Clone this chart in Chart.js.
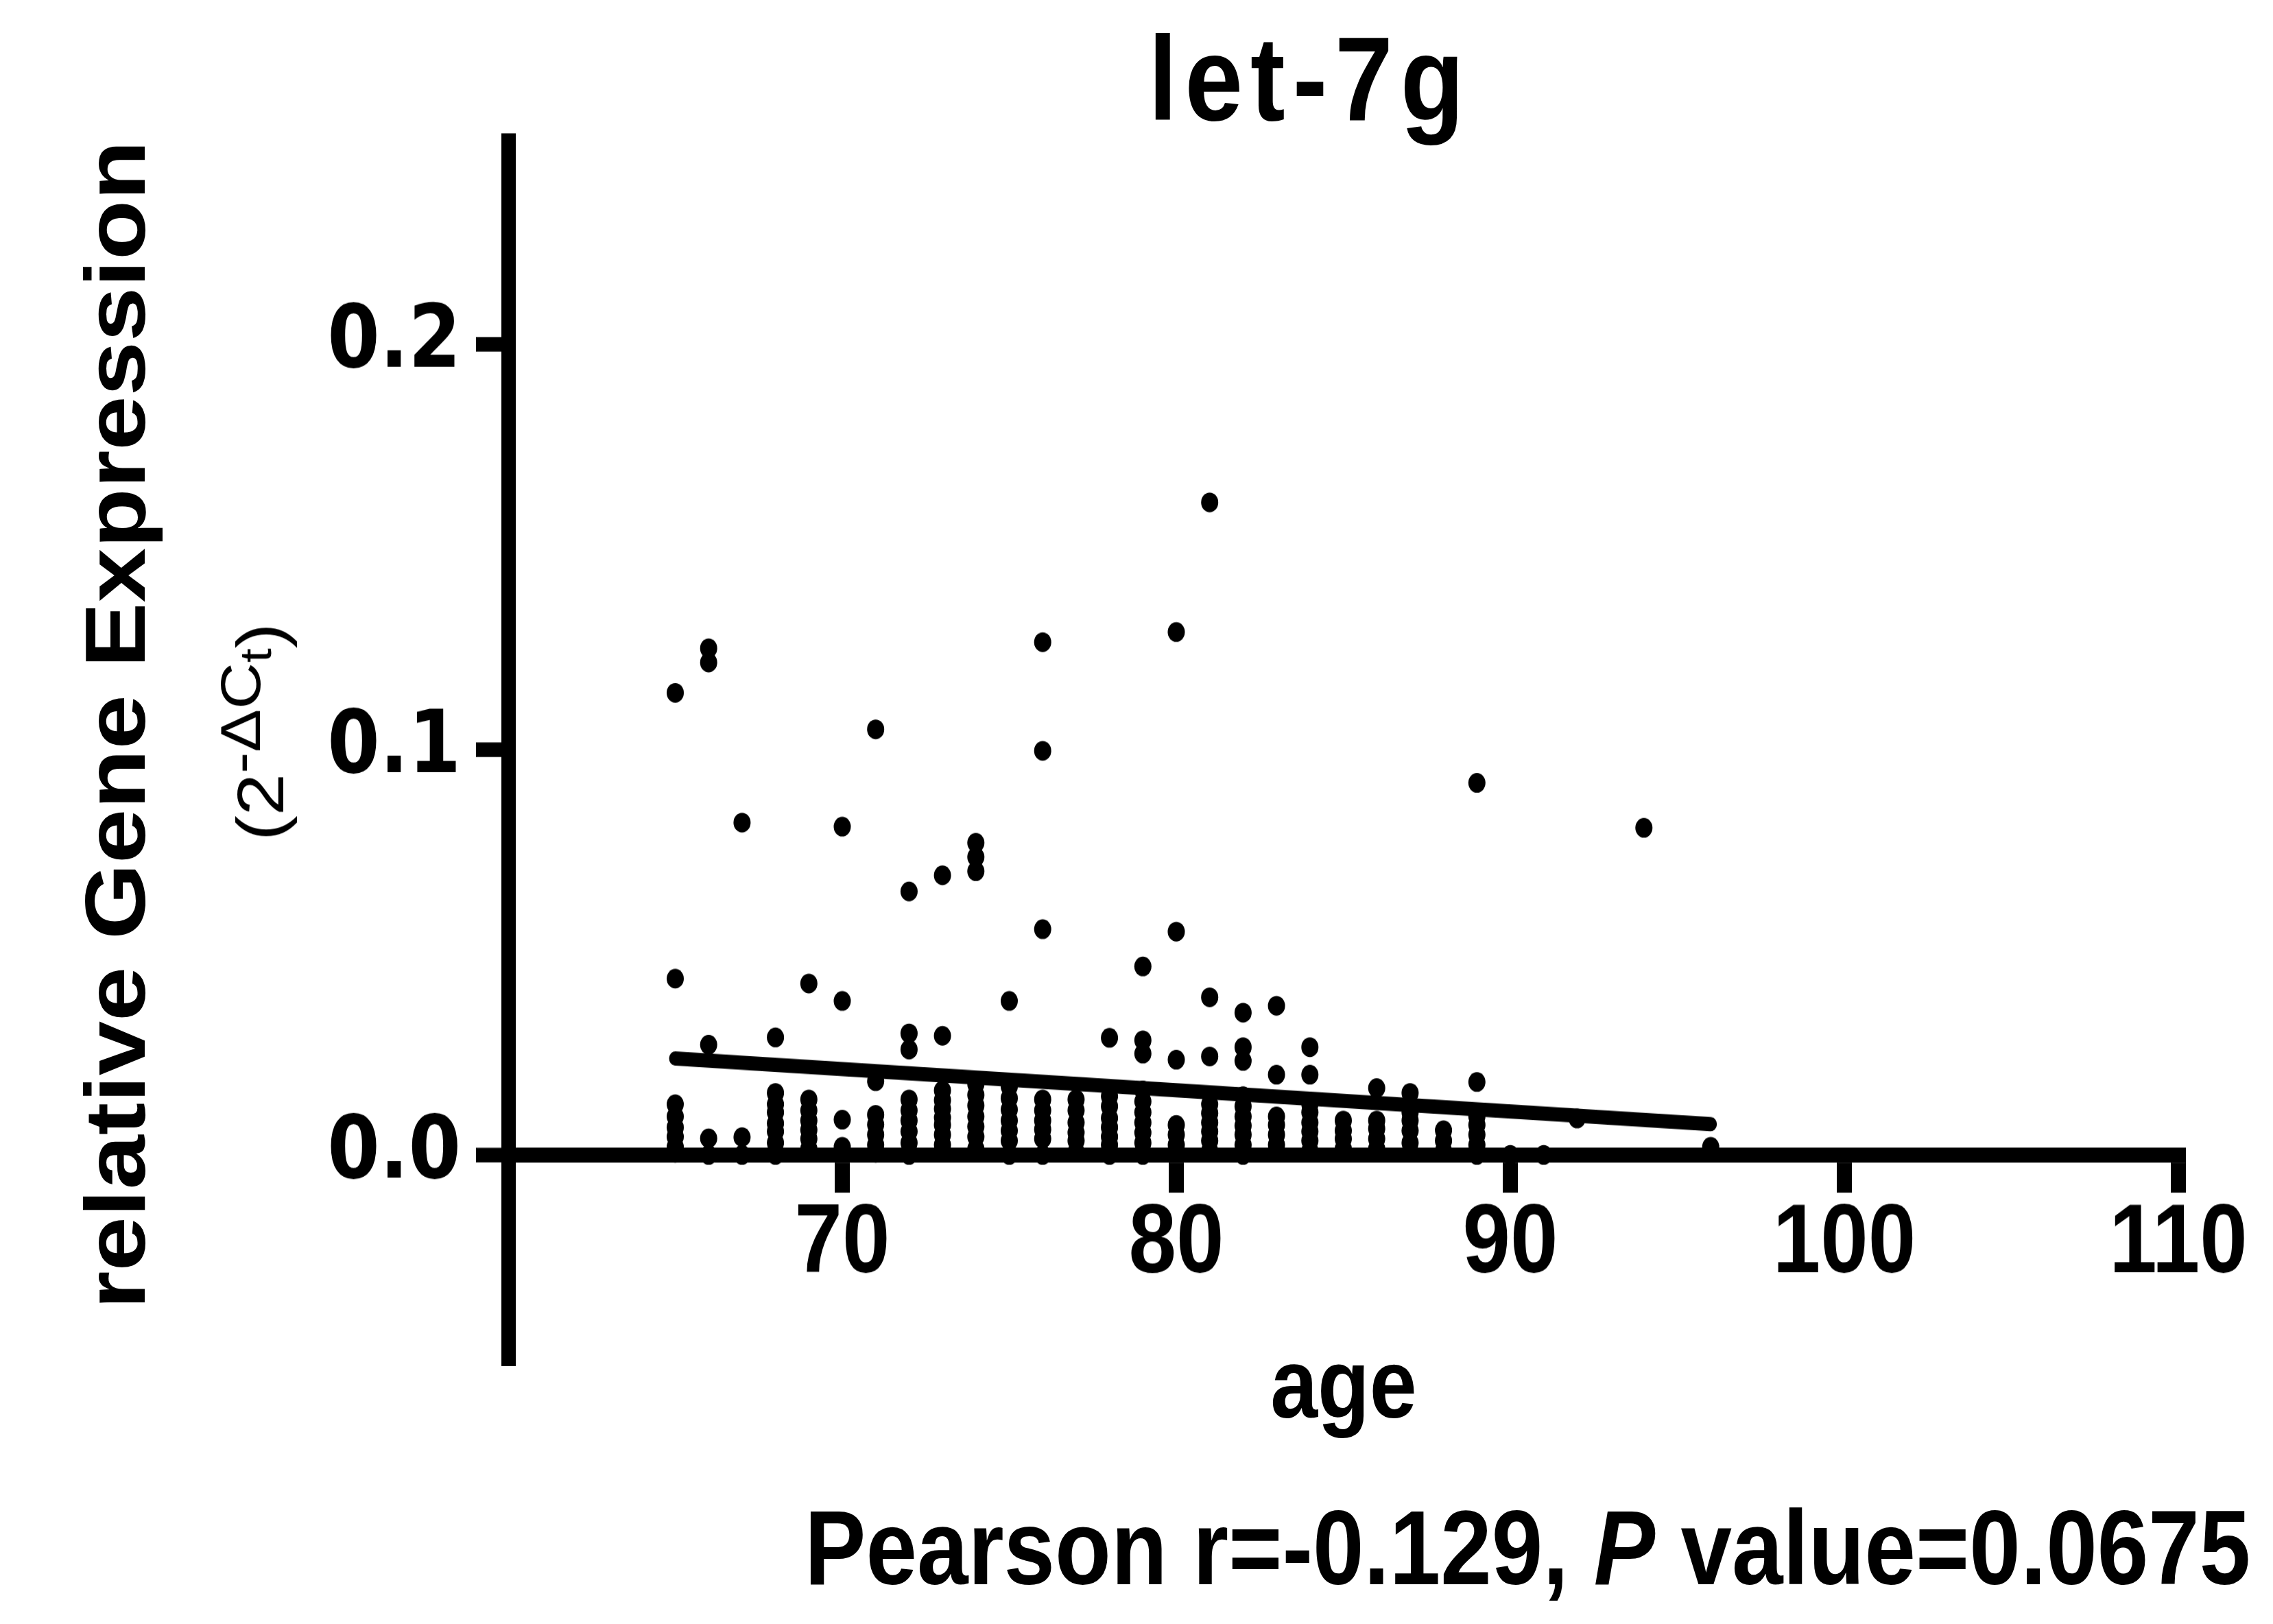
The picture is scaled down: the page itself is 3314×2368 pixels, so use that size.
<!DOCTYPE html>
<html>
<head>
<meta charset="utf-8">
<script src="https://cdn.jsdelivr.net/npm/chart.js@4.4.1/dist/chart.umd.min.js"></script>
<style>
  html, body { margin: 0; padding: 0; background: #fff; overflow: hidden; }
  /* the source figure is stretched vertically, so the whole stage is too */
  #stage { position: absolute; left: 0; top: 0; width: 3314px; height: 2059px;
           transform: scaleY(1.15007); transform-origin: 0 0; }
  #chart { position: absolute; left: 0; top: 0; }
  .txt { position: absolute; font-family: 'Liberation Sans', Arial, sans-serif; color: #000;
         white-space: nowrap; line-height: 1; }
  .rot { transform-origin: 0 0; transform: rotate(-90deg); text-align: center; }
  .up { position: relative; top: -0.42em; font-size: 0.85em; line-height: 0; }
  .dn { position: relative; top: 0.25em; font-size: 0.8em; line-height: 0; }
</style>
</head>
<body>
<div id="stage">
  <canvas id="chart" width="3314" height="2059" style="width:3314px;height:2059px"></canvas>
  <div class="txt" id="title" style="left:910px;top:23px;width:2000px;text-align:center;font-size:152px;font-weight:bold;letter-spacing:11px;">let-7g</div>
  <div class="txt" id="xtitle" style="left:1459px;top:1692px;width:1000px;text-align:center;font-size:124px;font-weight:bold;">age</div>
  <div class="txt rot" id="ytitle1" style="left:106px;top:1819px;width:1800px;font-size:124px;font-weight:bold;">relative Gene Expression</div>
  <div class="txt rot" id="ytitle2" style="left:332px;top:1828px;width:1800px;font-size:96px;">(2<span class="up">-&Delta;C<span class="dn">t</span></span>)</div>
  <div class="txt" id="stats" style="left:1173px;top:1896px;font-size:134px;font-weight:bold;">Pearson r=-0.129, <i>P</i> value=0.0675</div>
</div>
<script>
// let-7g expression vs age, one entry per sample
const ages = [
  65, 65, 65, 65, 65, 65, 65, 65,
  66, 66, 66, 66, 66,
  67, 67, 67,
  68, 68, 68, 68, 68, 68, 68, 68,
  69, 69, 69, 69, 69, 69, 69,
  70, 70, 70, 70,
  71, 71, 71, 71, 71, 71, 71,
  72, 72, 72, 72, 72, 72, 72, 72, 72,
  73, 73, 73, 73, 73, 73, 73, 73, 73,
  74, 74, 74, 74, 74, 74, 74, 74, 74, 74,
  75, 75, 75, 75, 75, 75, 75, 75,
  76, 76, 76, 76, 76, 76, 76, 76, 76,
  77, 77, 77, 77, 77, 77,
  78, 78, 78, 78, 78, 78, 78, 78,
  79, 79, 79, 79, 79, 79, 79, 79, 79, 79,
  80, 80, 80, 80, 80, 80,
  81, 81, 81, 81, 81, 81, 81, 81, 81,
  82, 82, 82, 82, 82, 82, 82, 82, 82, 82,
  83, 83, 83, 83, 83, 83,
  84, 84, 84, 84, 84, 84, 84, 84,
  85, 85, 85, 85,
  86, 86, 86, 86, 86,
  87, 87, 87, 87, 87,
  88, 88, 88,
  89, 89, 89, 89, 89, 89, 89,
  90, 91, 92, 94, 96
];
const expr = [
  0.114, 0.0435, 0.0125, 0.0095, 0.0068, 0.0045, 0.002, 0.0005,
  0.125, 0.1215, 0.0272, 0.0041, 0.0,
  0.082, 0.0044, 0.0,
  0.029, 0.0153, 0.0125, 0.0105, 0.0078, 0.0058, 0.003, 0.0,
  0.0423, 0.0137, 0.011, 0.0085, 0.0062, 0.004, 0.0015,
  0.081, 0.038, 0.0087, 0.002,
  0.105, 0.0182, 0.0099, 0.0075, 0.005, 0.0025, 0.0005,
  0.065, 0.030, 0.026, 0.0137, 0.011, 0.0085, 0.0058, 0.003, 0.0,
  0.069, 0.0294, 0.0159, 0.0135, 0.0114, 0.0092, 0.0074, 0.005, 0.0025,
  0.077, 0.0735, 0.070, 0.0175, 0.0148, 0.0122, 0.0095, 0.007, 0.0045, 0.0015,
  0.038, 0.0169, 0.014, 0.0112, 0.0085, 0.006, 0.0035, 0.0,
  0.1265, 0.0997, 0.0557, 0.0137, 0.011, 0.0085, 0.0063, 0.004, 0.0,
  0.0137, 0.011, 0.008, 0.0055, 0.0035, 0.0008,
  0.0289, 0.0145, 0.012, 0.0091, 0.0068, 0.0045, 0.0025, 0.0,
  0.0465, 0.0283, 0.025, 0.0159, 0.0132, 0.0105, 0.008, 0.0055, 0.003, 0.0,
  0.129, 0.0551, 0.0235, 0.0074, 0.005, 0.0025,
  0.161, 0.0389, 0.0243, 0.0125, 0.0103, 0.008, 0.0058, 0.0035, 0.001,
  0.0351, 0.0266, 0.0232, 0.0145, 0.012, 0.0095, 0.0072, 0.005, 0.0025, 0.0,
  0.0368, 0.0198, 0.0095, 0.0074, 0.005, 0.0025,
  0.0266, 0.0198, 0.0125, 0.0105, 0.008, 0.0058, 0.0035, 0.001,
  0.0085, 0.006, 0.004, 0.0015,
  0.0165, 0.0085, 0.0065, 0.004, 0.0015,
  0.0153, 0.0105, 0.0085, 0.006, 0.003,
  0.0061, 0.0035, 0.001,
  0.0918, 0.018, 0.0095, 0.0074, 0.005, 0.0025, 0.0,
  0.0, 0.0, 0.009, 0.0807, 0.002
];

// regression line ends
const fitAges = [65, 96];
const fitExpr = [0.0238, 0.0076];

const xTicks = [70, 80, 90, 100, 110];
const yTicks = [0, 0.1, 0.2];

const points = ages.map((a, i) => ({ x: a, y: expr[i] }));
const fitLine = fitAges.map((a, i) => ({ x: a, y: fitExpr[i] }));

const ctx = document.getElementById('chart').getContext('2d');
new Chart(ctx, {
    type: 'scatter',
    data: {
        datasets: [{
            label: 'let-7g',
            data: points,
            pointStyle: 'circle',
            pointRadius: 12.5,
            pointBorderWidth: 0,
            backgroundColor: '#000',
            order: 2
        }, {
            type: 'line',
            label: 'fit',
            data: fitLine,
            borderColor: '#000',
            borderWidth: 18,
            borderCapStyle: 'round',
            pointRadius: 0,
            fill: false,
            order: 1
        }]
    },
    options: {
        responsive: false,
        animation: false,
        devicePixelRatio: 1,
        layout: { padding: { left: 0, right: 138, top: 179.5, bottom: 337.7 } },
        plugins: {
            legend: { display: false },
            tooltip: { enabled: false },
            title: { display: false }
        },
        scales: {
            x: {
                type: 'linear',
                position: { y: 0 },
                min: 60,
                max: 110,
                afterBuildTicks: axis => { axis.ticks = xTicks.map(v => ({ value: v })); },
                ticks: {
                    color: '#000',
                    padding: 1,
                    autoSkip: false,
                    maxRotation: 0,
                    font: { family: 'Liberation Sans', weight: 'bold', size: 125, lineHeight: 1.2 }
                },
                grid: {
                    display: true,
                    drawOnChartArea: false,
                    drawTicks: true,
                    tickLength: 38,
                    tickWidth: 22,
                    tickColor: '#000',
                    lineWidth: 22,
                    color: '#000'
                },
                border: { display: true, width: 19.1, color: '#000' }
            },
            y: {
                type: 'linear',
                position: 'left',
                min: -0.05,
                max: 0.25,
                afterBuildTicks: axis => { axis.ticks = yTicks.map(v => ({ value: v })); },
                afterFit: axis => { axis.width = 741; },
                ticks: {
                    color: '#000',
                    padding: 22,
                    callback: v => v.toFixed(1),
                    font: { family: 'DejaVu Sans', weight: 'bold', size: 110 }
                },
                grid: {
                    display: true,
                    drawOnChartArea: false,
                    drawTicks: true,
                    tickLength: 47,
                    tickWidth: 18.3,
                    tickColor: '#000',
                    lineWidth: 21,
                    color: '#000'
                },
                border: { display: true, width: 21, color: '#000' }
            }
        }
    }
});
</script>
</body>
</html>
